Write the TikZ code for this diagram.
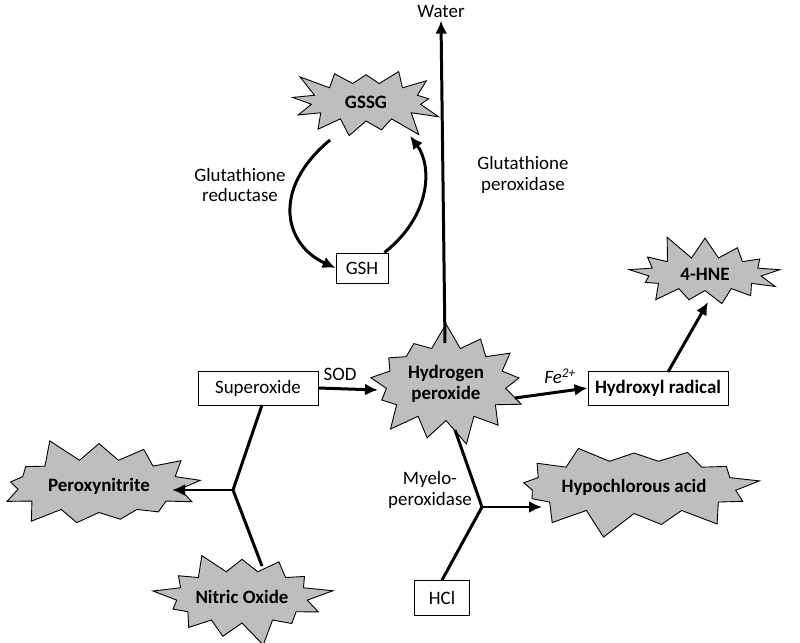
\documentclass[tikz,border=0pt]{standalone}
\usepackage{fontspec}
\setmainfont{Carlito}
\usetikzlibrary{arrows.meta,shapes.symbols}
\definecolor{burstgray}{RGB}{190,190,190}
\tikzset{
  burst/.style={draw, fill=burstgray, starburst, starburst points=13, starburst point height=26bp,
    inner sep=0pt, font=\bfseries\fontsize{19}{21}\selectfont, align=center, line width=0.9pt},
  chem/.style={draw, rectangle, line width=0.9pt, inner sep=0pt,
    font=\fontsize{19}{21}\selectfont},
  lbl/.style={font=\fontsize{19}{21}\selectfont, align=center},
  flow/.style={line width=3pt},
}
\begin{document}
\begin{tikzpicture}[>={Latex[length=13bp,width=12bp]},x=1bp,y=-1bp]
    \useasboundingbox (0,0) rectangle (800,643);
    %% species
    \node[burst, minimum width=162bp, minimum height=90bp, random starburst=3] (gssg) at (366,102) {GSSG};
    \node[chem, minimum width=52bp, minimum height=30bp] (gsh) at (362,268) {GSH};
    \node[chem, minimum width=120bp, minimum height=34bp] (sox) at (258,388) {Superoxide};
    \node[burst, minimum width=172bp, minimum height=125bp, random starburst=7] (hp) at (446,384) {Hydrogen\\peroxide};
    \node[chem, minimum width=140bp, minimum height=34bp, font=\bfseries\fontsize{19}{21}\selectfont] (hyd) at (658,388) {Hydroxyl radical};
    \node[burst, minimum width=165bp, minimum height=85bp, random starburst=11] (hne) at (705,274) {4-HNE};
    \node[burst, minimum width=215bp, minimum height=105bp, random starburst=5] (pnt) at (99,486) {Peroxynitrite};
    \node[burst, minimum width=168bp, minimum height=104bp, random starburst=9] (no) at (242,597) {Nitric Oxide};
    \node[burst, minimum width=196bp, minimum height=105bp, random starburst=13] (hocl) at (634,487) {Hypochlorous acid};
    \node[chem, minimum width=55bp, minimum height=35bp] (hcl) at (442,598) {HCl};
    \node[lbl] (water) at (441,11) {Water};
    %% labels
    \node[lbl] (gr) at (240,185) {Glutathione\\reductase};
    \node[lbl] (gpx) at (523,175) {Glutathione\\peroxidase};
    \node[lbl] (sod) at (340,374) {SOD};
    \node[lbl] (fe) at (560,376) {\itshape Fe\textsuperscript{2+}};
    \node[lbl] (mpo) at (430,490) {Myelo-\\peroxidase};
    %% junctions
    \coordinate (hptop) at (445,343);
    \coordinate (j1) at (233,490);
    \coordinate (j2) at (482,507);
    %% arrows
    \draw[flow,->] (hptop) -- (water.south);
    \draw[flow,->] (330,140) .. controls (270,190) and (285,245) .. (gsh.west);
    \draw[flow,->] (gsh.north east) ++(-4,0) .. controls (432,215) and (432,165) .. (410,136);
    \draw[flow,->] (sox.east) -- (378,390);
    \draw[flow,->] (515,398) -- (hyd.west);
    \draw[flow,->] (668,372) -- (708,302);
    \draw[flow] (262,405) -- (j1) -- (262,566);
    \draw[flow,->] (j1) -- (172,490);
    \draw[flow] (455,430) -- (j2) -- (hcl.north);
    \draw[flow,->] (j2) -- (542,507);
    %
\end{tikzpicture}
\end{document}
